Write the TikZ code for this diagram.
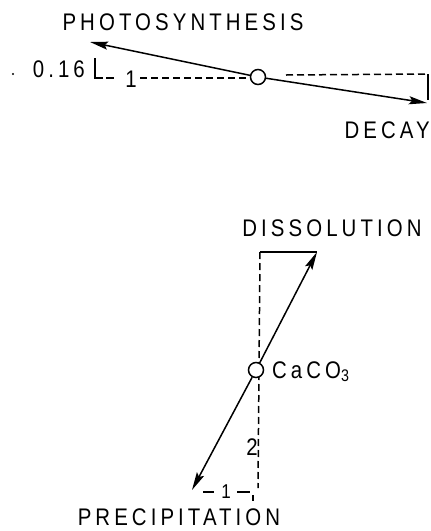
\documentclass[tikz,border=0pt]{standalone}
\usepackage{fontspec}
\setmainfont{Liberation Sans}[LetterSpace=17,FakeStretch=0.85]
\usetikzlibrary{arrows.meta}
\tikzset{
  lbl/.style={inner sep=0pt, font=\fontsize{24}{24}\selectfont},
  num/.style={inner sep=0pt, font=\fontsize{24}{24}\selectfont},
  arr/.style={line width=1.5pt, -{Stealth[length=18pt,width=8pt,inset=3pt]}},
  dsh/.style={line width=1.5pt, dash pattern=on 7pt off 4pt},
  thin/.style={line width=1.4pt},
  pt/.style={circle, draw, fill=white, minimum size=15pt, inner sep=0pt, line width=1.5pt}
}
\begin{document}
\begin{tikzpicture}[x=1pt,y=-1pt]
\useasboundingbox (0,0) rectangle (431,531);
% ---------- top diagram ----------
\coordinate (ph) at (90,42);
\coordinate (de) at (427,103);
\coordinate (dl) at (140,78);
\coordinate (Ltop) at (95,58);
\coordinate (Lcorner) at (95,78);
\coordinate (Lend) at (103,78);
\coordinate (gapa) at (106,78);
\coordinate (gapb) at (114,78);
\coordinate (dr0) at (286,75);
\coordinate (dr1) at (428,74);
\coordinate (dr2) at (428,100);
\draw[dsh] (dl) -- (250,78);
\draw[dsh] (dr0) -- (dr1);
\draw[thin] (dr1) -- (dr2);
\draw[thin] (Ltop) -- (Lcorner) -- (Lend);
\draw[thin] (gapa) -- (gapb);
\node[pt] (c1) at (258,77) {};
\draw[arr] (c1) -- (ph);
\draw[arr] (c1) -- (de);
\node[lbl, anchor=base] (tph) at (183,30) {PHOTOSYNTHESIS};
\node[lbl, anchor=base east] (tde) at (430,138) {DECAY};
\node[num, anchor=base east] (t016) at (85,77) {0.16};
\node[num, anchor=base] (t1a) at (131,87) {1};
\fill (13,74) circle (1.2pt);
% ---------- bottom diagram ----------
\coordinate (di) at (317,252);
\coordinate (pr) at (192,490);
\coordinate (vtop) at (260,252);
\coordinate (vbot) at (258,488);
\draw[dsh] (vtop) -- (vbot);
\draw[thin] (vtop) -- (di);
\node[pt] (c2) at (256,370) {};
\draw[arr] (c2) -- (di);
\draw[arr] (c2) -- (pr);
\node[lbl, anchor=base] (tdi) at (332,236) {DISSOLUTION};
\node[lbl, anchor=base] (tpr) at (179,525) {PRECIPITATION};
\node[lbl, anchor=base west] (tca) at (272,378) {CaCO\textsubscript{3}};
\node[num, anchor=base] (t2) at (252,455) {2};
\node[num, anchor=base, font=\fontsize{20}{20}\selectfont] (t1b) at (226,498) {1};
\draw[thin] (203,492) -- (214,492);
\draw[thin] (237,492) -- (250,492);
\draw[thin] (253,495) -- (253,501);
\end{tikzpicture}
\end{document}
